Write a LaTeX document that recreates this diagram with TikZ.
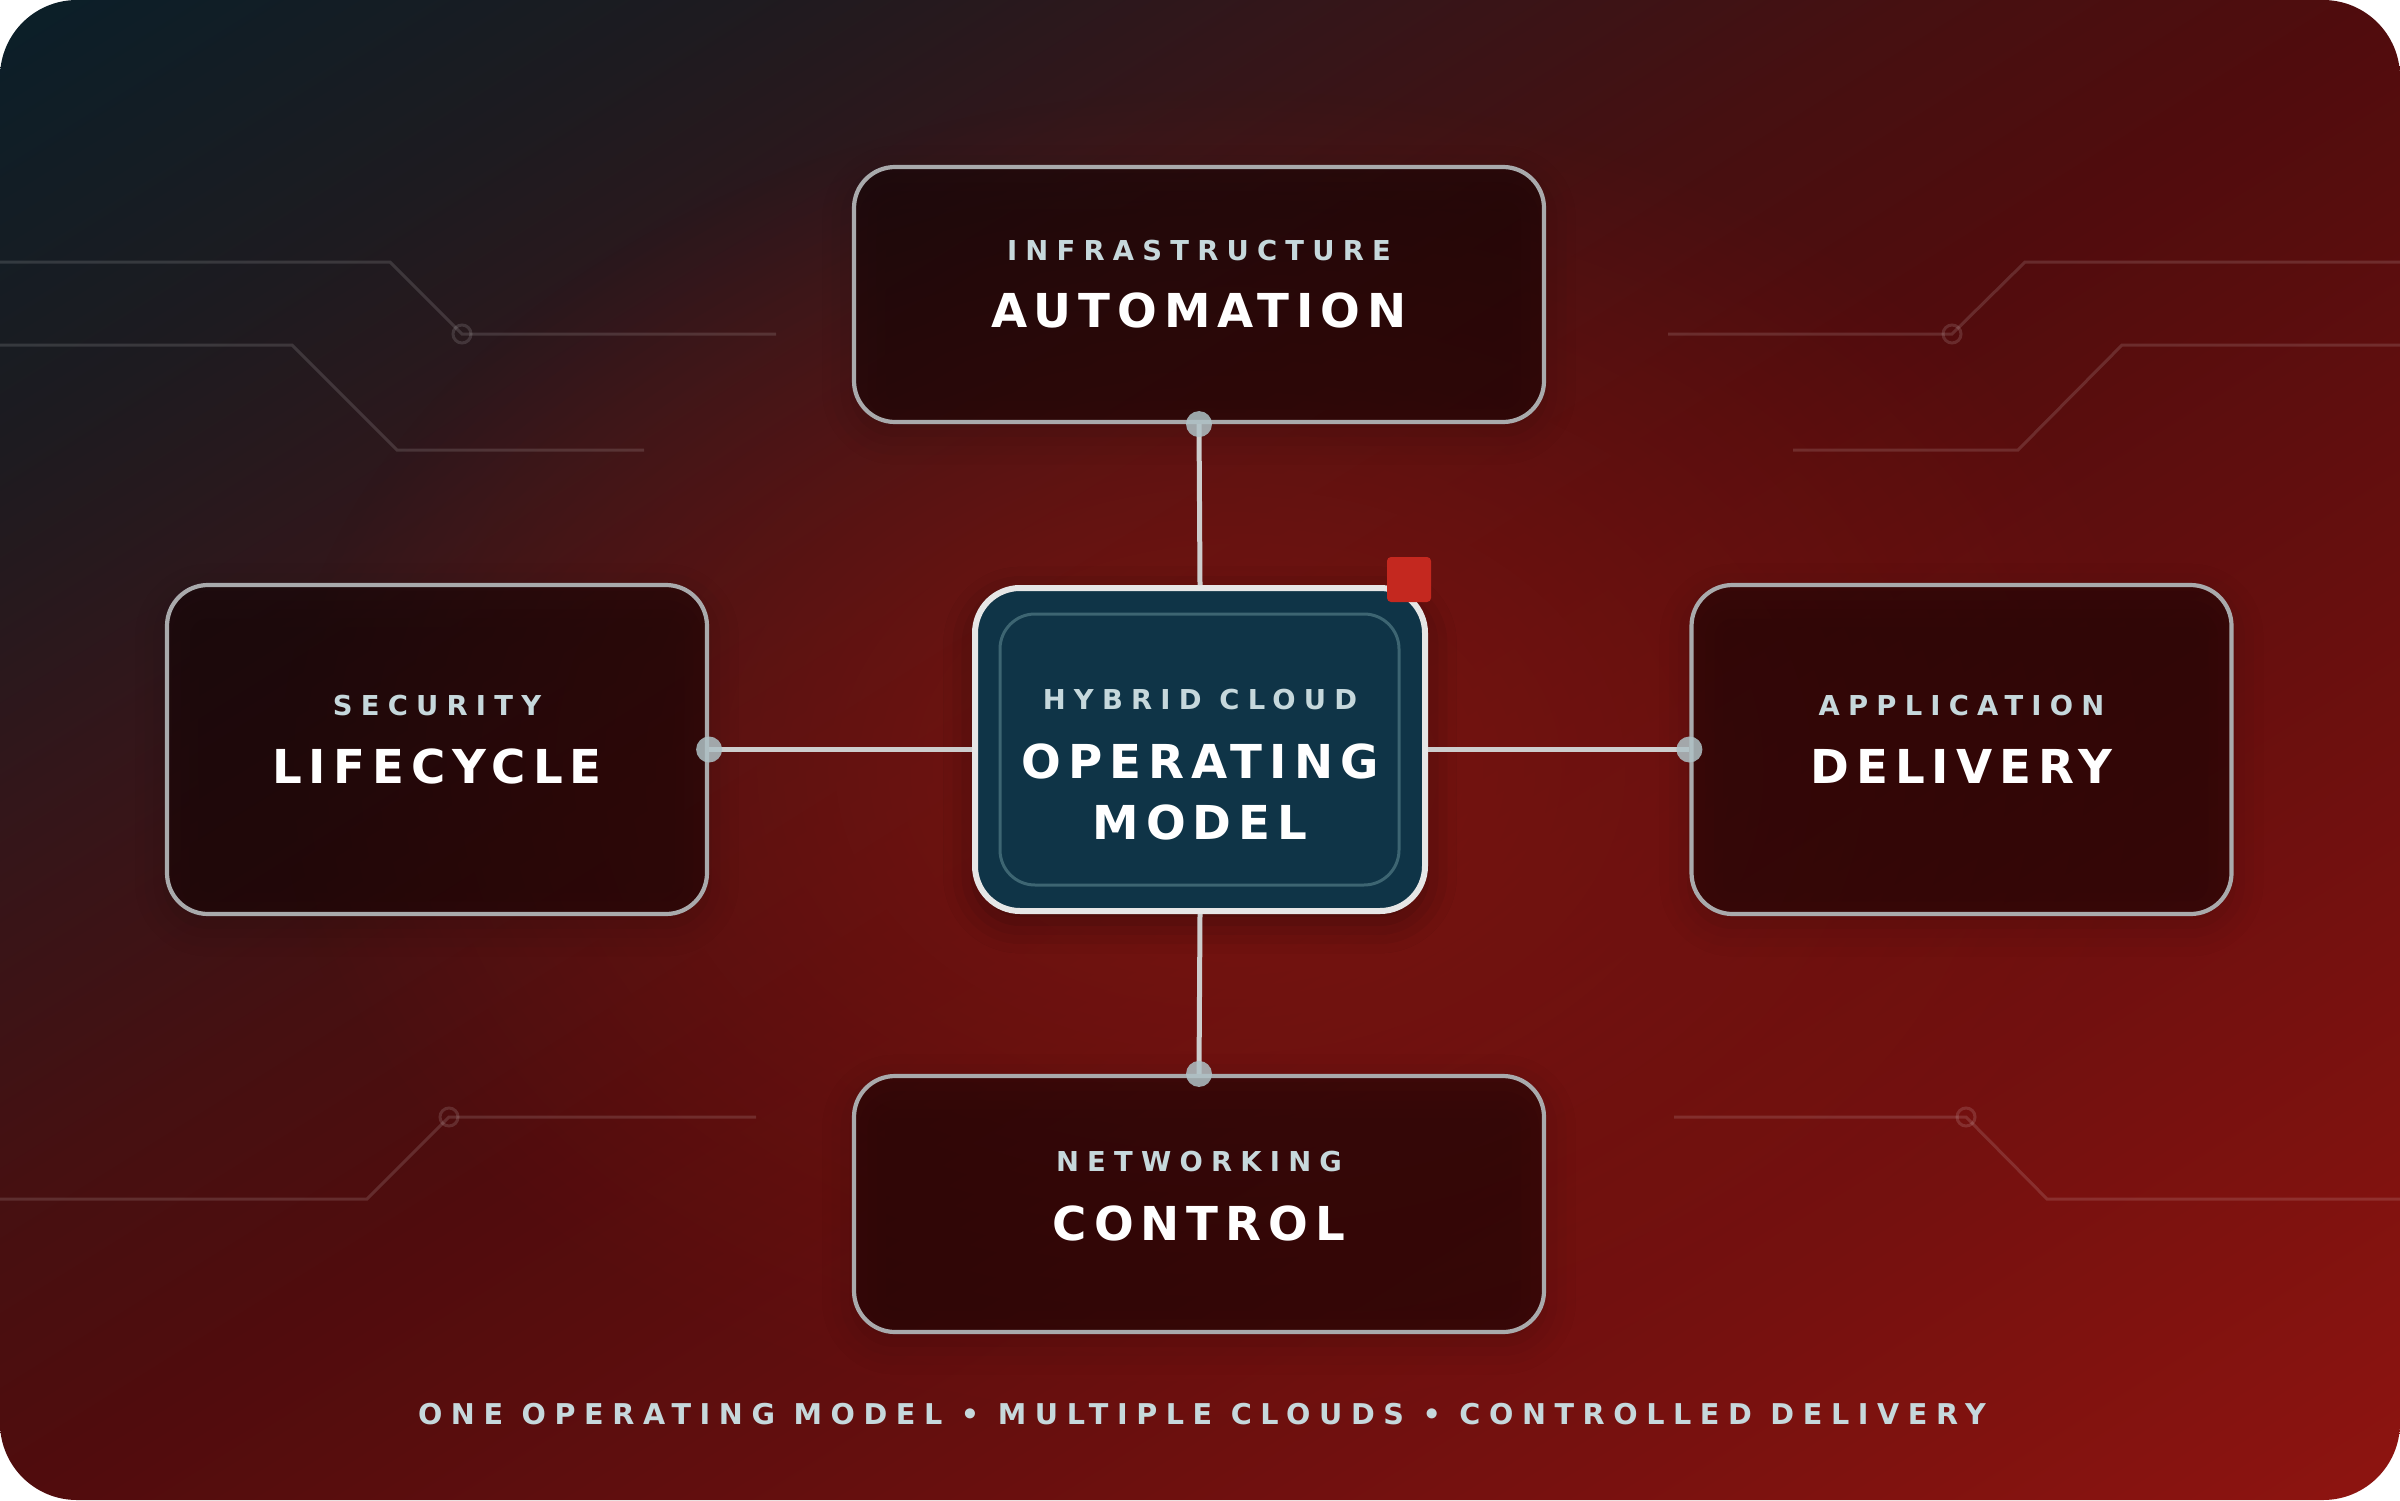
\documentclass[tikz,border=0pt]{standalone}
\usepackage{fontspec}
\usepackage{xcolor}
\usepackage{tikz}
\usetikzlibrary{calc,fadings,shadows.blur}

\newfontfamily\tagfont[LetterSpace=30]{DejaVu Sans}
\newfontfamily\headfont[LetterSpace=15]{DejaVu Sans}

\definecolor{bgnavy}{HTML}{0A1F29}
\definecolor{bgdusk}{HTML}{1D1B20}
\definecolor{bgwine}{HTML}{33161A}
\definecolor{bgdeep}{HTML}{461011}
\definecolor{bgmid}{HTML}{500C0D}
\definecolor{bgred}{HTML}{8E1410}
\definecolor{glowred}{HTML}{801611}
\definecolor{cardfill}{HTML}{120203}
\definecolor{cardline}{HTML}{A9AAAC}
\definecolor{corefill}{HTML}{0F3447}
\definecolor{coreline}{HTML}{E6E6E6}
\definecolor{coreinner}{HTML}{3D6572}
\definecolor{linkgray}{HTML}{CDCDCD}
\definecolor{dotgray}{HTML}{AFC2C6}
\definecolor{tagcol}{HTML}{C6D8DC}
\definecolor{flag}{HTML}{C4281F}

\pgfdeclarehorizontalshading{bgsweep}{100bp}{color(0bp)=(bgnavy); color(25bp)=(bgnavy);
  color(32.5bp)=(bgdusk); color(38.5bp)=(bgwine); color(45bp)=(bgdeep); color(50bp)=(bgmid);
  color(75bp)=(bgred); color(100bp)=(bgred)}
\tikzfading[name=glowfade, inner color=transparent!0, outer color=transparent!100]

\begin{document}
\begin{tikzpicture}[x=0.1mm,y=-0.1mm,
    halo/.style={blur shadow={shadow xshift=0pt, shadow yshift=-3pt, shadow blur radius=9pt, shadow opacity=40}},
    card/.style={draw=cardline, line width=0.42mm, fill=cardfill, fill opacity=0.5, rounded corners=4.1mm, halo},
    core/.style={draw=coreline, line width=0.6mm, fill=corefill, rounded corners=4.5mm, halo,
      minimum width=45mm, minimum height=32.3mm},
    trace/.style={draw=white, draw opacity=0.13, line width=0.3mm},
    link/.style={draw=linkgray, line width=0.5mm},
    joint/.style={fill=dotgray, fill opacity=0.85},
    tag/.style={text=tagcol, font=\tagfont\bfseries\fontsize{7.8}{9}\selectfont, inner sep=0pt},
    head/.style={text=white, font=\headfont\bfseries\fontsize{13.3}{17.6}\selectfont, inner sep=0pt, align=center}]
  \useasboundingbox (0,0) rectangle (2400,1500);
  % background
  \fill[white] (0,0) rectangle (2400,1500);
  \begin{scope}
    \clip[rounded corners=7.7mm] (0,0) rectangle (2400,1500);
    \begin{scope}[transform canvas={shift={(1200,750)}, rotate=-58}]
      \shade[shading=bgsweep] (-1272,-1700) rectangle (1272,1700);
    \end{scope}
    \fill[glowred, path fading=glowfade, fill opacity=0.85] (1230,770) ellipse (950 and 680);
    % circuit traces
    \draw[trace] (0,262) -- (390,262) -- (462,334) -- (776,334);
    \draw[trace] (462,334) circle (9);
    \draw[trace] (0,345) -- (292,345) -- (397,450) -- (644,450);
    \draw[trace] (1668,334) -- (1952,334) -- (2025,262) -- (2400,262);
    \draw[trace] (1952,334) circle (9);
    \draw[trace] (1793,450) -- (2018,450) -- (2122,345) -- (2400,345);
    \draw[trace] (0,1199) -- (367,1199) -- (449,1117) -- (756,1117);
    \draw[trace] (449,1117) circle (9);
    \draw[trace] (1674,1117) -- (1966,1117) -- (2047,1199) -- (2400,1199);
    \draw[trace] (1966,1117) circle (9);
  \end{scope}

  % cards
  \node[card, minimum width=69mm, minimum height=25.5mm] (auto) at (1199,294.5) {};
  \node[card, minimum width=54mm, minimum height=32.9mm] (secu) at (437,749.5) {};
  \node[card, minimum width=54mm, minimum height=32.9mm] (appl) at (1961.5,749.5) {};
  \node[card, minimum width=69mm, minimum height=25.6mm] (netw) at (1199,1204) {};
  \node[core] (core) at (1200,749.5) {};
  \draw[coreinner, line width=0.3mm, rounded corners=3.5mm]
    ($(core.north west)+(28,29)$) rectangle ($(core.south east)+(-29,-29)$);
  \fill[flag, rounded corners=0.4mm] (1387,557) rectangle (1431,602);

  % links
  \draw[link] (auto.south) -- (core.north);
  \draw[link] (secu.east) -- (core.west);
  \draw[link] (core.east) -- (appl.west);
  \draw[link] (core.south) -- (netw.north);
  \fill[joint] (auto.south) circle (13);
  \fill[joint] (secu.east) circle (13);
  \fill[joint] (appl.west) circle (13);
  \fill[joint] (netw.north) circle (13);

  % labels
  \node[tag] (auto-tag) at ($(auto)+(0,-44)$) {INFRASTRUCTURE};
  \node[head] (auto-head) at ($(auto)+(0,16)$) {AUTOMATION};
  \node[tag] (secu-tag) at ($(secu)+(0,-44)$) {SECURITY};
  \node[head] (secu-head) at ($(secu)+(0,17)$) {LIFECYCLE};
  \node[tag] (appl-tag) at ($(appl)+(0,-44)$) {APPLICATION};
  \node[head] (appl-head) at ($(appl)+(0,17)$) {DELIVERY};
  \node[tag] (netw-tag) at ($(netw)+(0,-42)$) {NETWORKING};
  \node[head] (netw-head) at ($(netw)+(0,19)$) {CONTROL};
  \node[tag] (core-tag) at ($(core)+(0,-50)$) {HYBRID CLOUD};
  \node[head] (core-head) at ($(core)+(0,42.5)$) {OPERATING\\MODEL};
  \node[tag, font=\tagfont\bfseries\fontsize{8.15}{9}\selectfont] (footer) at (1202,1414)
    {ONE OPERATING MODEL • MULTIPLE CLOUDS • CONTROLLED DELIVERY};
\end{tikzpicture}
\end{document}
